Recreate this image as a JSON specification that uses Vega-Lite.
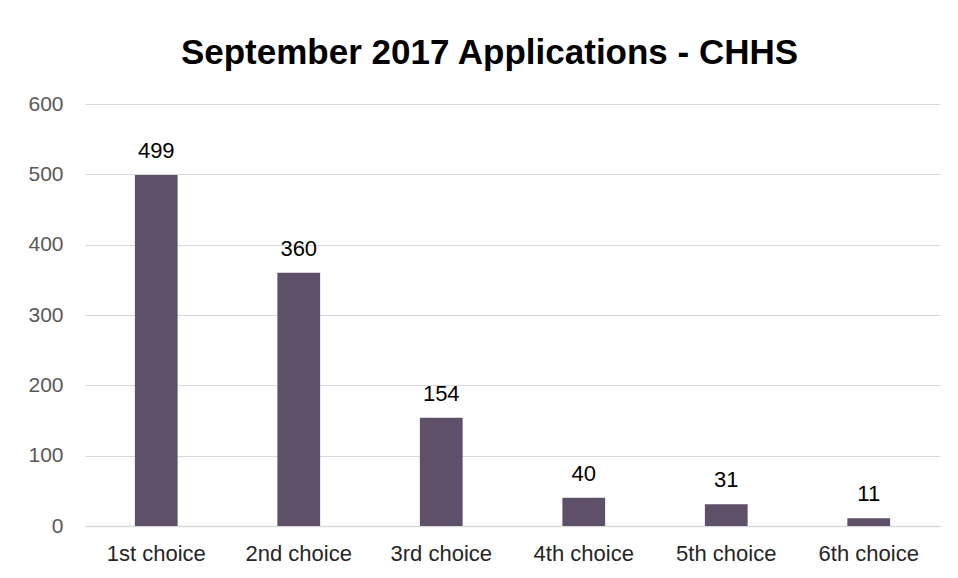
{
  "$schema": "https://vega.github.io/schema/vega-lite/v6.json",
  "width": 855,
  "height": 422,
  "autosize": {"type": "none"},
  "padding": {"left": 85, "top": 104, "right": 18, "bottom": 52},
  "background": "white",
  "config": {"view": {"stroke": null}, "font": "Liberation Sans"},
  "title": {
    "text": "September 2017 Applications - CHHS",
    "font": "Liberation Sans",
    "fontSize": 35,
    "fontWeight": "bold",
    "color": "#000000",
    "anchor": "middle",
    "dx": -23,
    "offset": 22
  },
  "data": {
    "values": [
      {"choice": "1st choice", "count": 499},
      {"choice": "2nd choice", "count": 360},
      {"choice": "3rd choice", "count": 154},
      {"choice": "4th choice", "count": 40},
      {"choice": "5th choice", "count": 31},
      {"choice": "6th choice", "count": 11}
    ]
  },
  "encoding": {
    "x": {
      "field": "choice",
      "type": "nominal",
      "sort": null,
      "scale": {"paddingInner": 0.7, "paddingOuter": 0.35},
      "axis": {
        "title": null,
        "labelAngle": 0,
        "labelFontSize": 22,
        "labelColor": "#262626",
        "labelFont": "Liberation Sans",
        "tickSize": 0,
        "labelPadding": 17,
        "domainColor": "#D9D9D9",
        "domainWidth": 1.5
      }
    },
    "y": {
      "field": "count",
      "type": "quantitative",
      "scale": {"domain": [0, 600]},
      "axis": {
        "title": null,
        "values": [0, 100, 200, 300, 400, 500, 600],
        "labelFontSize": 21,
        "labelColor": "#595959",
        "labelFont": "Liberation Sans",
        "tickSize": 0,
        "labelPadding": 22,
        "domain": false,
        "gridColor": "#D9D9D9",
        "gridWidth": 1
      }
    }
  },
  "layer": [
    {"mark": {"type": "bar", "color": "#5F5069"}},
    {
      "mark": {"type": "text", "baseline": "alphabetic", "dy": -17, "fontSize": 22, "color": "#000000", "font": "Liberation Sans"},
      "encoding": {"text": {"field": "count", "type": "quantitative"}}
    }
  ]
}
